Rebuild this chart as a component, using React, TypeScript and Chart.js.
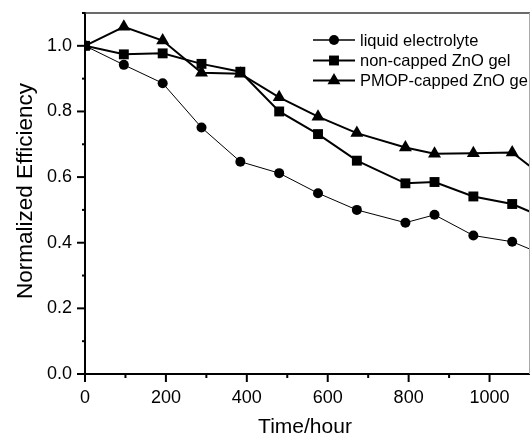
import React, { useEffect, useRef } from 'react';
import { Chart, registerables } from 'chart.js';

Chart.register(...registerables);

// Time in hours (last point lies beyond the visible frame, line runs off the right edge)
const timeHours = [0, 96, 192, 288, 384, 480, 576, 672, 792, 864, 960, 1056, 1152];
const liquidElectrolyte = [1.0, 0.942, 0.886, 0.751, 0.647, 0.612, 0.551, 0.5, 0.461, 0.485, 0.422, 0.403, 0.354];
const nonCappedZnO = [1.0, 0.974, 0.977, 0.945, 0.921, 0.8, 0.731, 0.65, 0.581, 0.585, 0.541, 0.518, 0.467];
const pmopCappedZnO = [1.0, 1.058, 1.016, 0.918, 0.915, 0.843, 0.784, 0.734, 0.69, 0.671, 0.673, 0.675, 0.583];
const seriesLabels = ['liquid electrolyte', 'non-capped ZnO gel', 'PMOP-capped ZnO gel'];
const xTitle = 'Time/hour';
const yTitle = 'Normalized Efficiency';

const FONT = '"Liberation Sans", Arial, Helvetica, sans-serif';

export default function App() {
  const ref = useRef<HTMLCanvasElement>(null);

  useEffect(() => {
    const canvas = ref.current;
    if (!canvas) return;

    const series = [liquidElectrolyte, nonCappedZnO, pmopCappedZnO];
    const styles = [
      { pointStyle: 'circle', radius: 5, lineWidth: 1 },
      { pointStyle: 'rect', radius: 7, lineWidth: 2 },
      { pointStyle: 'triangle', radius: 7.5, lineWidth: 2 },
    ];

    function drawMarker(ctx: CanvasRenderingContext2D, style: string, x: number, y: number, r: number) {
      ctx.beginPath();
      if (style === 'circle') {
        ctx.arc(x, y, r, 0, Math.PI * 2);
      } else if (style === 'rect') {
        const s = Math.SQRT1_2 * r;
        ctx.rect(x - s, y - s, 2 * s, 2 * s);
      } else {
        ctx.moveTo(x, y - r);
        ctx.lineTo(x + r * Math.sin(Math.PI / 3), y + r / 2);
        ctx.lineTo(x - r * Math.sin(Math.PI / 3), y + r / 2);
        ctx.closePath();
      }
      ctx.fill();
    }

    // let the plot area run to the right edge of the canvas (the frame is cropped there)
    const extendRight = {
      id: 'extendRight',
      afterLayout(chart: any) {
        const xs = chart.scales.x;
        const ca = chart.chartArea;
        ca.right = chart.width;
        ca.width = ca.right - ca.left;
        xs.right = chart.width;
        xs.width = xs.right - xs.left;
        xs.configure();
      },
    };

    const decor = {
      id: 'decor',
      afterDraw(chart: any) {
        const ctx = chart.ctx as CanvasRenderingContext2D;
        const { left, top, bottom } = chart.chartArea;
        const xs = chart.scales.x;
        const ys = chart.scales.y;
        ctx.save();
        // top frame line
        ctx.strokeStyle = '#3a3a3a';
        ctx.lineWidth = 1.5;
        ctx.beginPath();
        ctx.moveTo(left, top);
        ctx.lineTo(chart.width, top);
        ctx.stroke();
        // ticks
        ctx.strokeStyle = '#000';
        ctx.lineWidth = 2;
        xs.ticks.forEach((t: any) => {
          if (t.value >= xs.max) return;
          const px = xs.getPixelForValue(t.value);
          const major = Math.round(t.value) % 200 === 0;
          ctx.beginPath();
          ctx.moveTo(px, bottom);
          ctx.lineTo(px, bottom + (major ? 8 : 4));
          ctx.stroke();
        });
        ys.ticks.forEach((t: any) => {
          const py = ys.getPixelForValue(t.value);
          const major = Math.round(t.value * 10) % 2 === 0;
          ctx.beginPath();
          ctx.moveTo(left, py);
          ctx.lineTo(left - (major ? 8 : 3), py);
          ctx.stroke();
        });
        // axis titles
        ctx.fillStyle = '#000';
        ctx.font = `21px ${FONT}`;
        ctx.textAlign = 'center';
        ctx.textBaseline = 'alphabetic';
        ctx.fillText(xTitle, 305, 433);
        ctx.save();
        ctx.translate(32, 191);
        ctx.rotate(-Math.PI / 2);
        ctx.font = `22.5px ${FONT}`;
        ctx.fillText(yTitle, 0, 0);
        ctx.restore();
        // legend (cut off by the right edge of the frame)
        ctx.save();
        ctx.beginPath();
        ctx.rect(0, 0, 528, chart.height);
        ctx.clip();
        const rowsY = [40, 60.5, 80.5];
        ctx.font = `16.5px ${FONT}`;
        ctx.textAlign = 'left';
        ctx.textBaseline = 'middle';
        seriesLabels.forEach((label, i) => {
          const y = rowsY[i];
          const st = styles[i];
          ctx.strokeStyle = '#000';
          ctx.lineWidth = i === 0 ? 1.5 : 2;
          ctx.beginPath();
          ctx.moveTo(313, y);
          ctx.lineTo(355, y);
          ctx.stroke();
          ctx.fillStyle = '#000';
          drawMarker(ctx, st.pointStyle, 334, y, st.radius);
          ctx.fillText(label, 360, y + 1);
        });
        ctx.restore();
        // right frame line at the cropped edge
        ctx.fillStyle = '#a8a8a8';
        ctx.fillRect(529, top, 1, bottom - top);
        ctx.restore();
      },
    };

    const chart = new Chart(canvas, {
      type: 'line',
      data: {
        datasets: series.map((vals, i) => ({
          label: seriesLabels[i],
          data: timeHours.map((t, j) => ({ x: t, y: vals[j] })),
          borderColor: '#000',
          backgroundColor: '#000',
          borderWidth: styles[i].lineWidth,
          pointStyle: styles[i].pointStyle as any,
          pointRadius: styles[i].radius,
          pointBorderWidth: 0,
          pointBackgroundColor: '#000',
          tension: 0,
          fill: false,
        })),
      },
      options: {
        responsive: false,
        maintainAspectRatio: false,
        animation: false,
        devicePixelRatio: 1,
        layout: { padding: { top: 13, left: 0, right: 0, bottom: 0 } },
        plugins: { legend: { display: false }, tooltip: { enabled: false } },
        scales: {
          x: {
            type: 'linear',
            min: 0,
            max: 1100,
            afterFit: (s: any) => {
              s.height = 62;
              s.paddingLeft = 0;
              s.paddingRight = 0;
            },
            ticks: {
              stepSize: 100,
              padding: 13,
              maxRotation: 0,
              autoSkip: false,
              color: '#000',
              font: { family: FONT, size: 18 },
              callback: (v: any) => (Math.round(Number(v)) % 200 === 0 ? String(Math.round(Number(v))) : ''),
            },
            grid: { display: true, drawOnChartArea: false, drawTicks: false },
            border: { display: true, color: '#000', width: 2 },
          },
          y: {
            type: 'linear',
            min: 0,
            max: 1.1,
            afterFit: (s: any) => {
              s.width = 85;
              s.paddingTop = 0;
              s.paddingBottom = 0;
            },
            ticks: {
              stepSize: 0.1,
              padding: 13,
              autoSkip: false,
              color: '#000',
              font: { family: FONT, size: 18 },
              callback: (v: any) => {
                const n = Math.round(Number(v) * 10);
                return n % 2 === 0 ? (n / 10).toFixed(1) : '';
              },
            },
            grid: { display: true, drawOnChartArea: false, drawTicks: false },
            border: { display: true, color: '#000', width: 2 },
          },
        },
      },
      plugins: [extendRight, decor],
    });

    return () => chart.destroy();
  }, []);

  return (
    <div
      style={{
        position: 'fixed',
        left: 0,
        top: 0,
        width: 530,
        height: 436,
        overflow: 'hidden',
        background: '#fff',
      }}
    >
      <canvas ref={ref} width={530} height={436} style={{ display: 'block' }} />
    </div>
  );
}
